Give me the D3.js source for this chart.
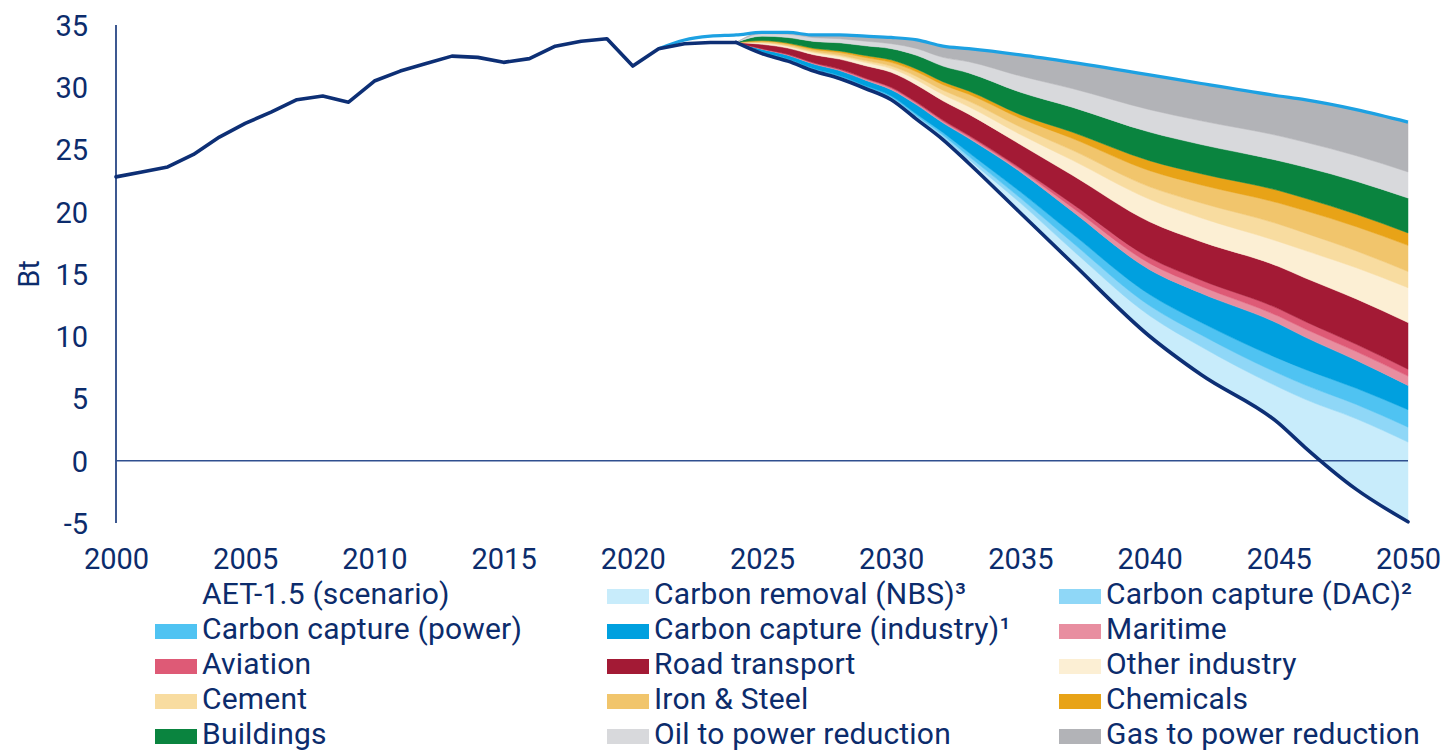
<!DOCTYPE html>
<html><head><meta charset="utf-8">
<script src="https://cdn.jsdelivr.net/npm/d3@7"></script>
<style>
html,body{margin:0;padding:0;background:#fff;}
svg text{font-family:Roboto,"Noto Sans",sans-serif;fill:#0c2c6c;}
</style></head>
<body>
<svg id="chart" width="1447" height="750"></svg>
<script>
// ---------- DATA ----------
const histYears = [2000,2001,2002,2003,2004,2005,2006,2007,2008,2009,2010,2011,2012,2013,2014,2015,2016,2017,2018,2019,2020,2021,2022,2023,2024];
const histValues = [22.8,23.2,23.6,24.6,26.0,27.1,28.0,29.0,29.3,28.8,30.5,31.3,31.9,32.5,32.4,32.0,32.3,33.3,33.7,33.9,31.7,33.1,33.5,33.6,33.6];

const scenYears = [2024,2025,2026,2027,2028,2029,2030,2031,2032,2033,2035,2037,2040,2042,2045,2046,2048,2050];
const aetValues = [33.6,32.7,32.1,31.3,30.7,29.9,29.0,27.4,25.8,23.9,19.9,15.9,10.0,6.9,3.0,1.1,-2.3,-4.9];

const topYears = [2021,2022,2023,2024,2025,2026,2027,2028,2029,2030,2031,2032,2033,2035,2037,2040,2042,2045,2046,2048,2050];
const topValues = [33.1,33.8,34.1,34.2,34.4,34.4,34.2,34.2,34.1,34.0,33.8,33.3,33.1,32.6,32.0,31.0,30.3,29.3,29.0,28.2,27.2];

// wedge thicknesses (Bt) at scenYears, stacked upward from the AET-1.5 line
const carbonRemovalNBS   = [0,0.05,0.06,0.06,0.07,0.07,0.1,0.15,0.2,0.3,0.8,1.05,1.65,2.25,2.9,3.85,5.67,6.4];
const carbonCaptureDAC   = [0,0.05,0.05,0.07,0.07,0.07,0.1,0.12,0.17,0.25,0.4,0.6,0.8,0.95,1.1,1.15,1.15,1.2];
const carbonCapturePower = [0,0.05,0.06,0.07,0.08,0.08,0.1,0.15,0.2,0.3,0.5,0.7,0.9,1.0,1.2,1.25,1.3,1.4];
const carbonCaptureInd   = [0,0.2,0.3,0.36,0.42,0.45,0.5,0.75,0.77,1.15,1.6,1.8,2.0,2.35,2.8,2.6,2.25,1.95];
const maritime           = [0,0.02,0.04,0.05,0.06,0.08,0.1,0.1,0.11,0.12,0.15,0.3,0.5,0.55,0.6,0.65,0.7,0.75];
const aviation           = [0,0.03,0.04,0.05,0.06,0.08,0.1,0.1,0.11,0.12,0.15,0.3,0.45,0.5,0.6,0.6,0.58,0.55];
const roadTransport      = [0,0.35,0.5,0.65,0.8,1.0,1.2,1.4,1.55,1.7,1.9,2.3,2.9,3.1,3.4,3.5,3.65,3.75];
const otherIndustry      = [0,0.1,0.13,0.16,0.2,0.25,0.3,0.4,0.5,0.6,0.8,1.2,1.8,1.9,2.0,2.2,2.5,2.8];
const cement             = [0,0.05,0.07,0.1,0.13,0.16,0.2,0.28,0.35,0.45,0.6,0.8,1.0,1.2,1.4,1.4,1.35,1.3];
const ironSteel          = [0,0.1,0.13,0.16,0.2,0.25,0.3,0.38,0.45,0.55,0.7,0.95,1.3,1.45,1.7,1.8,1.95,2.1];
const chemicals          = [0,0.05,0.07,0.1,0.13,0.16,0.2,0.22,0.24,0.26,0.3,0.5,0.8,0.9,1.0,1.0,1.0,1.0];
const buildings          = [0,0.35,0.45,0.55,0.65,0.78,0.9,1.1,1.25,1.45,1.8,2.0,2.3,2.35,2.4,2.5,2.65,2.8];
const oilToPower         = [0,0.2,0.25,0.3,0.33,0.37,0.4,0.55,0.7,0.9,1.3,1.5,1.8,1.9,2.0,2.0,2.05,2.1];
const gasToPower         = [0,0.1,0.15,0.22,0.3,0.4,0.5,0.7,0.9,1.05,1.7,2.1,2.8,3.0,3.2,3.4,3.7,4.0];

const seriesNames = ["Carbon removal (NBS)³","Carbon capture (DAC)²","Carbon capture (power)","Carbon capture (industry)¹","Maritime","Aviation","Road transport","Other industry","Cement","Iron & Steel","Chemicals","Buildings","Oil to power reduction","Gas to power reduction"];
const seriesValues = [carbonRemovalNBS,carbonCaptureDAC,carbonCapturePower,carbonCaptureInd,maritime,aviation,roadTransport,otherIndustry,cement,ironSteel,chemicals,buildings,oilToPower,gasToPower];
const seriesColors = ["#c8ecfb","#8fd7f7","#4fc3f2","#00a0df","#e88ea0","#de5a76","#a31a35","#fcefd4","#f8dca0","#f1c56c","#e8a317","#0a843f","#d8d9dc","#b2b3b7"];

const xTicks = [2000,2005,2010,2015,2020,2025,2030,2035,2040,2045,2050];
const yTicks = [-5,0,5,10,15,20,25,30,35];
const yLabel = "Bt";
const aetLabel = "AET-1.5 (scenario)";

// ---------- CHART ----------
const svg = d3.select("#chart");
const x = d3.scaleLinear().domain([2000,2050]).range([116,1408]);
const y = d3.scaleLinear().domain([-5,35]).range([523,25]);
const navy = "#0d2f75";
const curve = d3.curveMonotoneX;

// stacked wedges
const table = scenYears.map((yr,i)=>{
  const row = {year:yr, base:aetValues[i]};
  seriesNames.forEach((n,k)=>row[n]=seriesValues[k][i]);
  return row;
});
const stack = d3.stack().keys(seriesNames)(table);
const area = d3.area().curve(curve)
  .x(d=>x(d.data.year))
  .y0(d=>y(d.data.base + d[0]))
  .y1(d=>y(d.data.base + d[1]));
svg.append("g").selectAll("path").data(stack).join("path")
  .attr("d",area)
  .attr("fill",(d,i)=>seriesColors[i])
  .attr("stroke",(d,i)=>seriesColors[i])
  .attr("stroke-width",0.5);

// axes
const yAxis = d3.axisLeft(y).tickValues(yTicks).tickFormat(d=>String(d)).tickSize(0).tickPadding(28);
const gy = svg.append("g").attr("transform","translate(116,0)").call(yAxis);
gy.select(".domain").attr("stroke",navy).attr("stroke-width",1.6).attr("d","M0,"+y(35)+"V"+y(-5));
gy.selectAll("text").attr("font-size",29).attr("fill","#0c2c6c").attr("dy","0.36em").attr("font-family","Roboto");

const xAxis = d3.axisBottom(x).tickValues(xTicks).tickFormat(d=>String(d)).tickSize(0).tickPadding(0);
const gx = svg.append("g").attr("transform","translate(0,"+y(-5)+")").call(xAxis);
gx.select(".domain").remove();
gx.selectAll("text").attr("font-size",29).attr("fill","#0c2c6c").attr("y",46).attr("dy",0).attr("font-family","Roboto");

// zero line
svg.append("line").attr("x1",x(2000)).attr("x2",x(2050)).attr("y1",y(0)).attr("y2",y(0))
  .attr("stroke","#2f4f8f").attr("stroke-width",1.6);

svg.append("text").attr("transform","translate(39,"+((y(35)+y(-5))/2)+") rotate(-90)")
  .attr("text-anchor","middle").attr("font-size",29).text(yLabel);

// top (baseline) line
const lineLin = d3.line().x(d=>x(d[0])).y(d=>y(d[1]));
const lineSmooth = d3.line().curve(curve).x(d=>x(d[0])).y(d=>y(d[1]));
svg.append("path").datum(topYears.map((yr,i)=>[yr,topValues[i]]))
  .attr("d",lineSmooth).attr("fill","none").attr("stroke","#1da1e2").attr("stroke-width",3.2).attr("stroke-linejoin","round");

// historical line + AET-1.5 line
svg.append("path").datum(histYears.map((yr,i)=>[yr,histValues[i]])).attr("d",lineLin).attr("fill","none")
  .attr("stroke",navy).attr("stroke-width",3.6).attr("stroke-linejoin","round").attr("stroke-linecap","round");
svg.append("path").datum(scenYears.map((yr,i)=>[yr,aetValues[i]])).attr("d",lineSmooth).attr("fill","none")
  .attr("stroke",navy).attr("stroke-width",3.6).attr("stroke-linejoin","round").attr("stroke-linecap","round");

// legend
const legendItems = [{name:aetLabel,color:null}].concat(seriesNames.map((n,i)=>({name:n,color:seriesColors[i]})));
const lg = svg.append("g");
legendItems.forEach((it,i)=>{
  const col = i%3, row = Math.floor(i/3);
  const sx = 155 + col*452, by = 604 + row*35;
  const g = lg.append("g");
  if(it.color) g.append("rect").attr("x",sx).attr("y",by-15).attr("width",42).attr("height",15).attr("fill",it.color);
  g.append("text").attr("x",sx+47).attr("y",by).attr("font-size",30).attr("letter-spacing",0.2).text(it.name);
});
</script>
</body></html>
